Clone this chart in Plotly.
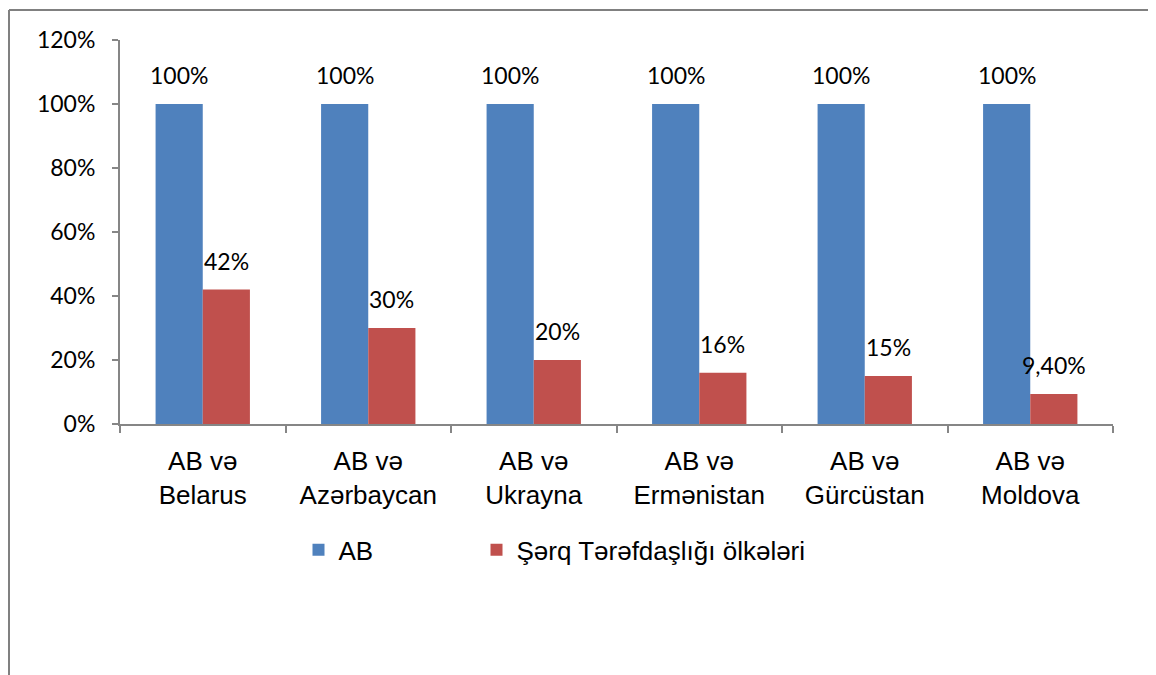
import plotly.graph_objects as go

categories = ["AB və<br>Belarus", "AB və<br>Azərbaycan", "AB və<br>Ukrayna",
              "AB və<br>Ermənistan", "AB və<br>Gürcüstan", "AB və<br>Moldova"]
series_names = ["AB", "Şərq Tərəfdaşlığı ölkələri"]
ab_values = [1.00, 1.00, 1.00, 1.00, 1.00, 1.00]
partner_values = [0.42, 0.30, 0.20, 0.16, 0.15, 0.094]
ab_labels = ["100%", "100%", "100%", "100%", "100%", "100%"]
partner_labels = ["42%", "30%", "20%", "16%", "15%", "9,40%"]
y_ticks = [0, 0.2, 0.4, 0.6, 0.8, 1.0, 1.2]
y_tick_labels = ["0%", "20%", "40%", "60%", "80%", "100%", "120%"]

# layout geometry (figure pixels; page body adds an 8px margin)
W, H = 1148, 667
ML, MR, MT, MB = 112, 43, 32, 251
BARGAP = 0.43
plot_w = W - ML - MR
plot_h = H - MT - MB
bar_px = plot_w / len(categories) * (1 - BARGAP) / 2

calib = "Lato, Carlito, Calibri, sans-serif"
arial = "Liberation Sans, Arial, sans-serif"
label_font = dict(family=calib, size=23, color="#000000")
axis_color = "#868686"

fig = go.Figure()
fig.add_trace(go.Bar(
    x=categories, y=ab_values, name=series_names[0],
    marker=dict(color="#4F81BD", line=dict(width=0)),
    legend="legend",
))
fig.add_trace(go.Bar(
    x=categories, y=partner_values, name=series_names[1],
    marker=dict(color="#C0504D", line=dict(width=0)),
    legend="legend2",
))

annotations = []
for series, labels, sign in ((ab_values, ab_labels, -1), (partner_values, partner_labels, 1)):
    for cat, val, lab in zip(categories, series, labels):
        annotations.append(dict(
            x=cat, y=val, xref="x", yref="y", text=lab, showarrow=False,
            xanchor="center", yanchor="bottom", xshift=sign * bar_px / 2, yshift=13,
            font=label_font,
        ))

# outer frame: left edge at figure x=1, top edge at figure y=2
bx = (1 - ML) / plot_w
by = (H - MB - 2) / plot_h

legend_common = dict(
    orientation="h", xanchor="left", y=-0.328, yanchor="middle",
    font=dict(family=arial, size=26, color="#000000"),
    itemclick=False, itemdoubleclick=False, bgcolor="rgba(0,0,0,0)",
)

fig.update_layout(
    width=W, height=H,
    margin=dict(l=ML, r=MR, t=MT, b=MB),
    paper_bgcolor="white", plot_bgcolor="white",
    barmode="group", bargap=BARGAP, bargroupgap=0,
    showlegend=True,
    legend=dict(x=(290.5 - ML) / plot_w, **legend_common),
    legend2=dict(x=(468.5 - ML) / plot_w, **legend_common),
    annotations=annotations,
    xaxis=dict(
        showline=True, linecolor=axis_color, linewidth=2,
        ticks="outside", tickson="boundaries", ticklen=7, tickcolor=axis_color, tickwidth=2,
        tickfont=dict(family=arial, size=26, color="#000000"),
        showgrid=False, zeroline=False, fixedrange=True,
        ticklabelstandoff=13,
    ),
    yaxis=dict(
        range=[0, 1.2], tickvals=y_ticks, ticktext=y_tick_labels,
        showline=True, linecolor=axis_color, linewidth=2,
        ticks="outside", ticklen=6, tickcolor=axis_color, tickwidth=2,
        tickfont=dict(family=calib, size=23, color="#000000"),
        showgrid=False, zeroline=False, fixedrange=True,
        ticklabelstandoff=12,
    ),
    shapes=[
        dict(type="line", xref="paper", yref="paper",
             x0=bx, x1=bx, y0=by, y1=-0.8,
             line=dict(color="#808080", width=2)),
        dict(type="line", xref="paper", yref="paper",
             x0=bx, x1=1.2, y0=by, y1=by,
             line=dict(color="#808080", width=2)),
    ],
)

fig.write_html("out.html")
